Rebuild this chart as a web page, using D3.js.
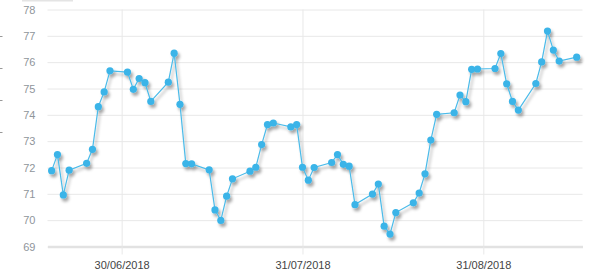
<!DOCTYPE html>
<html>
<head>
<meta charset="utf-8">
<script src="https://cdn.jsdelivr.net/npm/d3@7"></script>
<style>
  html, body { margin: 0; padding: 0; background: #fff; }
  #chart { width: 591px; height: 278px; }
  .axis text { font-family: "Liberation Sans", Arial, sans-serif; font-size: 11px; }
</style>
</head>
<body>
<div id="chart"></div>
<script>
// trading days (Sun-Thu) and closing values
const dates = [
  '2018-06-18', '2018-06-19', '2018-06-20', '2018-06-21', '2018-06-24', '2018-06-25', '2018-06-26', '2018-06-27', '2018-06-28',
  '2018-07-01', '2018-07-02', '2018-07-03', '2018-07-04', '2018-07-05', '2018-07-08', '2018-07-09', '2018-07-10', '2018-07-11', '2018-07-12',
  '2018-07-15', '2018-07-16', '2018-07-17', '2018-07-18', '2018-07-19', '2018-07-22', '2018-07-23', '2018-07-24', '2018-07-25', '2018-07-26',
  '2018-07-29', '2018-07-30', '2018-07-31', '2018-08-01', '2018-08-02', '2018-08-05', '2018-08-06', '2018-08-07', '2018-08-08', '2018-08-09',
  '2018-08-12', '2018-08-13', '2018-08-14', '2018-08-15', '2018-08-16', '2018-08-19', '2018-08-20', '2018-08-21', '2018-08-22', '2018-08-23',
  '2018-08-26', '2018-08-27', '2018-08-28', '2018-08-29', '2018-08-30', '2018-09-02', '2018-09-03', '2018-09-04', '2018-09-05', '2018-09-06',
  '2018-09-09', '2018-09-10', '2018-09-11', '2018-09-12', '2018-09-13', '2018-09-16'
];
const values = [
  71.88, 72.49, 70.96, 71.90, 72.16, 72.69, 74.31, 74.87, 75.67,
  75.62, 74.97, 75.38, 75.22, 74.51, 75.24, 76.34, 74.40, 72.15, 72.14,
  71.91, 70.39, 69.99, 70.91, 71.57, 71.86, 72.01, 72.87, 73.63, 73.69,
  73.54, 73.63, 72.01, 71.52, 72.00, 72.19, 72.49, 72.12, 72.05, 70.59,
  70.99, 71.37, 69.77, 69.47, 70.29, 70.66, 71.03, 71.76, 73.04, 74.02,
  74.08, 74.75, 74.50, 75.73, 75.74, 75.76, 76.33, 75.18, 74.51, 74.18,
  75.19, 76.01, 77.18, 76.46, 76.04, 76.19
];
const yTicks = [69, 70, 71, 72, 73, 74, 75, 76, 77, 78];
const xTicks = ['2018-06-30', '2018-07-31', '2018-08-31'];
const xDomain = ['2018-06-17T07:00', '2018-09-17T00:00'];

const parse = d3.isoParse;
const data = dates.map((d, i) => ({ date: parse(d + 'T00:00'), value: values[i] }));

const W = 591, H = 278;
const margin = { top: 9.5, right: 8.5, bottom: 31.5, left: 47.5 };
const width = W - margin.left - margin.right;
const height = H - margin.top - margin.bottom;

const svg = d3.select('#chart').append('svg')
  .attr('width', W)
  .attr('height', H);

// faint leftovers at the edges of the screenshot
svg.append('line')
  .attr('x1', 22).attr('x2', 73).attr('y1', 0.5).attr('y2', 0.5)
  .attr('stroke', '#e4e4e4').attr('stroke-width', 2);
[36, 68, 100, 132].forEach(y => {
  svg.append('line').attr('x1', 0).attr('x2', 2.5).attr('y1', y + 0.5).attr('y2', y + 0.5)
    .attr('stroke', '#999').attr('stroke-width', 1);
});

const defs = svg.append('defs');
const filt = defs.append('filter').attr('id', 'shadow')
  .attr('x', '-10%').attr('y', '-10%').attr('width', '130%').attr('height', '130%');
filt.append('feDropShadow')
  .attr('dx', 2).attr('dy', 3).attr('stdDeviation', 1.8)
  .attr('flood-color', '#000').attr('flood-opacity', 0.35);

const g = svg.append('g').attr('transform', `translate(${margin.left},${margin.top})`);

const x = d3.scaleTime()
  .domain(xDomain.map(parse))
  .range([0, width]);

const y = d3.scaleLinear()
  .domain([69, 78])
  .range([height, 0]);

// horizontal gridlines
g.append('g')
  .attr('class', 'grid')
  .call(d3.axisLeft(y).tickValues(yTicks).tickSize(-width).tickFormat(''))
  .call(s => s.select('.domain').remove())
  .selectAll('line')
  .attr('stroke', '#e8e8e8');

// vertical gridlines
g.append('g')
  .attr('class', 'grid')
  .attr('transform', `translate(0,${height})`)
  .call(d3.axisBottom(x).tickValues(xTicks.map(d => parse(d + 'T00:00'))).tickSize(height).tickFormat(''))
  .call(s => s.select('.domain').remove())
  .selectAll('line')
  .attr('transform', `translate(0,${-height})`)
  .attr('stroke', '#e8e8e8');

// y labels
g.append('g')
  .attr('class', 'axis')
  .call(d3.axisLeft(y).tickValues(yTicks).tickSize(0).tickPadding(12))
  .call(s => s.select('.domain').remove())
  .selectAll('text')
  .attr('fill', '#8f959b');

// bottom axis
const xAxis = g.append('g')
  .attr('class', 'axis')
  .attr('transform', `translate(0,${height})`)
  .call(d3.axisBottom(x)
    .tickValues(xTicks.map(d => parse(d + 'T00:00')))
    .tickFormat(d3.timeFormat('%d/%m/%Y'))
    .tickSize(8).tickSizeOuter(0).tickPadding(7));
xAxis.select('.domain').attr('stroke', '#e2e2e2').attr('stroke-width', 2.5);
xAxis.selectAll('line').attr('stroke', '#e8e8e8');
xAxis.selectAll('text').attr('fill', '#444');

// series
const series = g.append('g').attr('filter', 'url(#shadow)');

series.append('path')
  .datum(data)
  .attr('fill', 'none')
  .attr('stroke', '#4bbbe9')
  .attr('stroke-width', 1.2)
  .attr('d', d3.line().x(d => x(d.date)).y(d => y(d.value)));

series.selectAll('circle')
  .data(data)
  .enter().append('circle')
  .attr('cx', d => x(d.date))
  .attr('cy', d => y(d.value))
  .attr('r', 3.6)
  .attr('fill', '#3ab4e8');
</script>
</body>
</html>
